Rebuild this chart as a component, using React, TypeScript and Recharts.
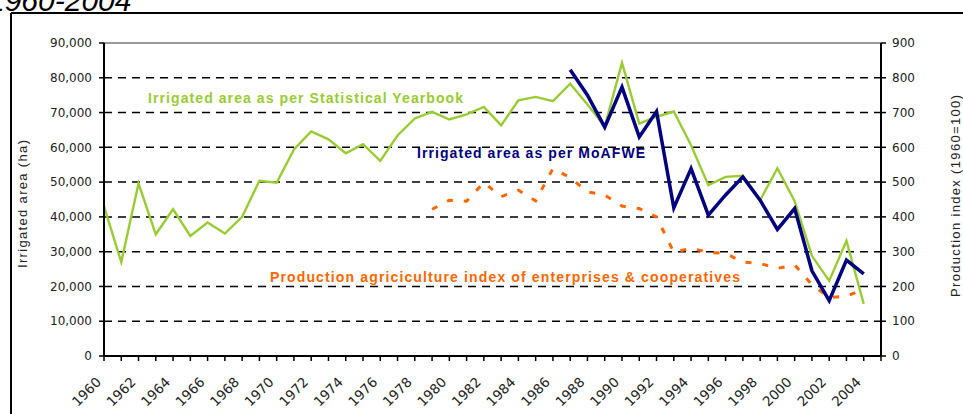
import React from 'react';
import { LineChart, Line, XAxis, YAxis, CartesianGrid, ReferenceLine } from 'recharts';

const years = [
  1960, 1961, 1962, 1963, 1964, 1965, 1966, 1967, 1968, 1969,
  1970, 1971, 1972, 1973, 1974, 1975, 1976, 1977, 1978, 1979,
  1980, 1981, 1982, 1983, 1984, 1985, 1986, 1987, 1988, 1989,
  1990, 1991, 1992, 1993, 1994, 1995, 1996, 1997, 1998, 1999,
  2000, 2001, 2002, 2003, 2004,
];

// irrigated area (ha), Statistical Yearbook
const yearbookArea = [
  43000, 27000, 49600, 35000, 42200, 34500, 38400, 35200, 40000, 50400,
  49800, 59400, 64600, 62300, 58300, 60900, 56100, 63400, 68300, 70200,
  68000, 69500, 71600, 66300, 73500, 74500, 73300, 78300, 72300, 66000,
  84300, 66800, 68800, 70300, 60600, 49100, 51500, 51800, 44800, 54000,
  44500, 28800, 21600, 33100, 15000,
];

// irrigated area (ha), MoAFWE
const moafweYears = [
  1987, 1988, 1989, 1990, 1991, 1992, 1993, 1994, 1995, 1996,
  1997, 1998, 1999, 2000, 2001, 2002, 2003, 2004,
];
const moafweArea = [
  82300, 75000, 65800, 77300, 63000, 70300, 42600, 53900, 40500, 46300,
  51500, 44800, 36400, 42400, 24500, 15900, 27600, 23600,
];

// production index (1960=100)
const indexYears = [
  1979, 1980, 1981, 1982, 1983, 1984, 1985, 1986, 1987, 1988,
  1989, 1990, 1991, 1992, 1993, 1994, 1995, 1996, 1997, 1998,
  1999, 2000, 2001, 2002, 2003, 2004,
];
const productionIndex = [
  422, 448, 445, 499, 458, 477, 446, 539, 513, 472,
  463, 431, 424, 400, 298, 310, 298, 295, 270, 266,
  252, 262, 205, 168, 172, 192,
];

const tickYears = [
  1960, 1961, 1962, 1963, 1964, 1965, 1966, 1967, 1968, 1969,
  1970, 1971, 1972, 1973, 1974, 1975, 1976, 1977, 1978, 1979,
  1980, 1981, 1982, 1983, 1984, 1985, 1986, 1987, 1988, 1989,
  1990, 1991, 1992, 1993, 1994, 1995, 1996, 1997, 1998, 1999,
  2000, 2001, 2002, 2003, 2004, 2005,
];
const areaTicks = [0, 10000, 20000, 30000, 40000, 50000, 60000, 70000, 80000, 90000];
const indexTicks = [0, 100, 200, 300, 400, 500, 600, 700, 800, 900];

const rows = years.map((year, i) => {
  const m = moafweYears.indexOf(year);
  const p = indexYears.indexOf(year);
  return {
    year,
    yearbook: yearbookArea[i],
    moafwe: m >= 0 ? moafweArea[m] : null,
    index: p >= 0 ? productionIndex[p] : null,
  };
});

const tickFont = 'DejaVu Sans, sans-serif';
const labelFont = 'Liberation Sans, Arial, sans-serif';

function YearTick(props: any) {
  const { x, y, payload } = props;
  const v = payload.value;
  if (v % 2 !== 0 || v > 2004) return <g />;
  const ax = x - 2;
  const ay = y + 20;
  return (
    <text x={ax} y={ay} textAnchor="end" transform={`rotate(-45 ${ax} ${ay})`}
      fill="#222" fontSize={13.5} fontFamily={tickFont}>
      {v}
    </text>
  );
}

export default function App() {
  return (
    <div style={{ position: 'absolute', left: 0, top: 0, width: 963, height: 414, overflow: 'hidden', background: '#fff' }}>
      <LineChart width={963} height={414} data={rows} margin={{ top: 43, right: 0, bottom: 0, left: 0 }}>
        <CartesianGrid yAxisId="area" vertical={false} stroke="#000" strokeWidth={1.5} strokeDasharray="8 6" />
        <XAxis dataKey="year" type="number" domain={[1960, 2005]} ticks={tickYears} interval={0}
          height={58} tick={(p: any) => <YearTick {...p} />}
          axisLine={{ stroke: '#000', strokeWidth: 2 }} tickLine={{ stroke: '#000', strokeWidth: 1.5 }} tickSize={5} />
        <YAxis yAxisId="area" domain={[0, 90000]} ticks={areaTicks} width={104} interval={0}
          tickFormatter={(v: number) => v.toLocaleString('en-US')}
          tick={{ fill: '#222', fontSize: 12, fontFamily: tickFont }} tickMargin={7} tickSize={5}
          axisLine={{ stroke: '#000', strokeWidth: 2 }} tickLine={{ stroke: '#000', strokeWidth: 1.5 }} />
        <YAxis yAxisId="index" orientation="right" domain={[0, 900]} ticks={indexTicks} width={82} interval={0}
          tick={{ fill: '#222', fontSize: 12, fontFamily: tickFont, textAnchor: 'start' }} tickMargin={6} tickSize={5}
          axisLine={{ stroke: '#000', strokeWidth: 2 }} tickLine={{ stroke: '#000', strokeWidth: 1.5 }} />
        <ReferenceLine yAxisId="area" y={90000} stroke="#999" strokeWidth={2} />
        <Line yAxisId="index" dataKey="index" stroke="#ff6600" strokeWidth={3} strokeDasharray="6 11"
          dot={false} activeDot={false} isAnimationActive={false} />
        <Line yAxisId="area" dataKey="yearbook" stroke="#99cc33" strokeWidth={2.4}
          dot={false} activeDot={false} isAnimationActive={false} />
        <Line yAxisId="area" dataKey="moafwe" stroke="#000080" strokeWidth={3.5}
          dot={false} activeDot={false} isAnimationActive={false} />
      </LineChart>
      <svg width={963} height={414} style={{ position: 'absolute', left: 0, top: 0, pointerEvents: 'none' }}>
        <text x={-12} y={11} fontSize={30} fontStyle="italic" fontFamily={labelFont} fill="#000">1960-2004</text>
        <line x1={11} y1={13} x2={963} y2={13} stroke="#000" strokeWidth={2} />
        <line x1={11} y1={13} x2={11} y2={414} stroke="#000" strokeWidth={2} />
        <text x={148} y={103} fontSize={14} fontWeight="bold" fontFamily={labelFont} fill="#99cc33"
          textLength={315} lengthAdjust="spacing">Irrigated area as per Statistical Yearbook</text>
        <text x={417} y={158} fontSize={14} fontWeight="bold" fontFamily={labelFont} fill="#000080"
          textLength={228} lengthAdjust="spacing">Irrigated area as per MoAFWE</text>
        <text x={270} y={282} fontSize={14} fontWeight="bold" fontFamily={labelFont} fill="#ff6600"
          textLength={470} lengthAdjust="spacing">Production agriciculture index of enterprises &amp; cooperatives</text>
        <text x={27} y={204} fontSize={13} fontFamily={labelFont} fill="#222" textAnchor="middle"
          transform="rotate(-90 27 204)" textLength={128} lengthAdjust="spacing">Irrigated area (ha)</text>
        <text x={960} y={196} fontSize={13} fontFamily={labelFont} fill="#222" textAnchor="middle"
          transform="rotate(-90 960 196)" textLength={202} lengthAdjust="spacing">Production index (1960=100)</text>
      </svg>
    </div>
  );
}
